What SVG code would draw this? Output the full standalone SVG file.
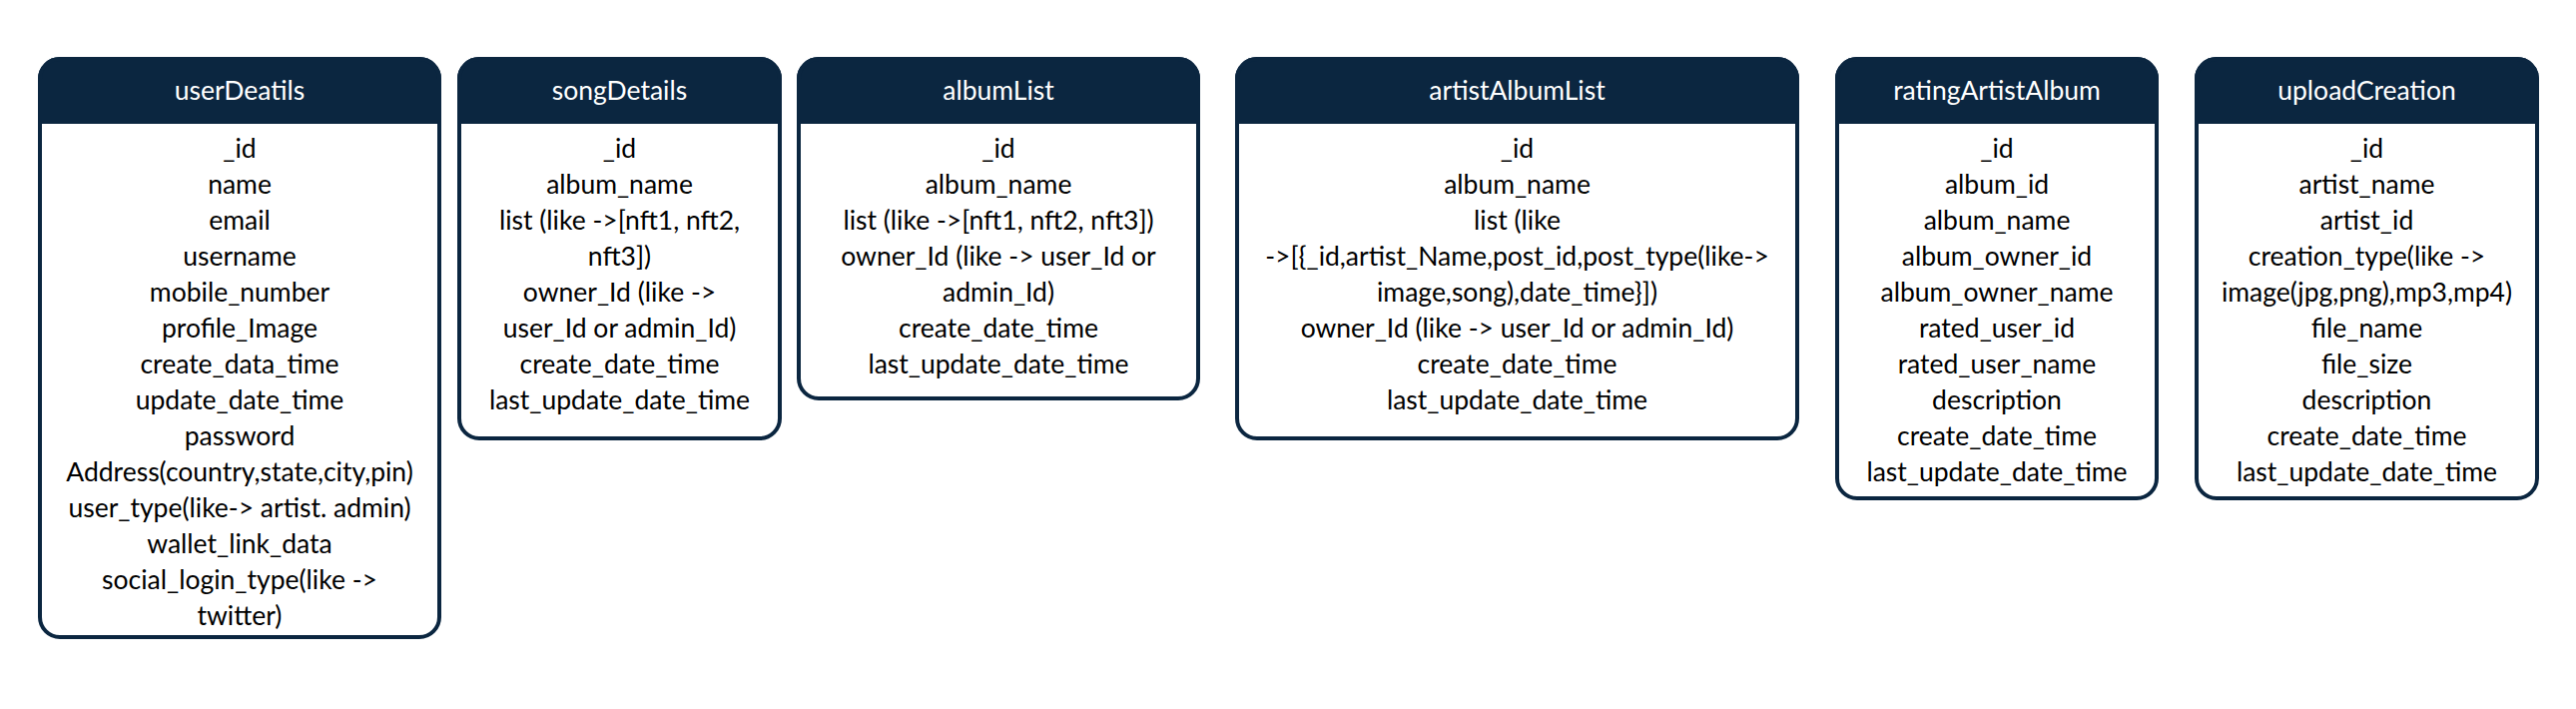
<svg xmlns="http://www.w3.org/2000/svg" width="2580" height="710" viewBox="0 0 2580 710">
<style>
.box{fill:#ffffff;stroke:#0b2640;stroke-width:4}
.hdr{fill:#0b2640;stroke:#0b2640;stroke-width:4}
.title{font-family:Lato,"Open Sans",sans-serif;font-size:26.5px;fill:#ffffff;text-anchor:middle}
.row{font-family:Lato,"Open Sans",sans-serif;font-size:26.5px;fill:#000000;text-anchor:middle}
</style>
<rect width="2580" height="710" fill="#ffffff"/>
<g id="connectors"></g>

<g id="userDeatils">
<rect class="box" x="40" y="59" width="400" height="579" rx="20"/>
<path class="hdr" d="M40,122 V79 A20,20 0 0 1 60,59 H420 A20,20 0 0 1 440,79 V122 Z"/>
<text class="title" x="240" y="100">userDeatils</text>
<text class="row" x="240" y="158">_id</text>
<text class="row" x="240" y="194">name</text>
<text class="row" x="240" y="230">email</text>
<text class="row" x="240" y="266">username</text>
<text class="row" x="240" y="302">mobile_number</text>
<text class="row" x="240" y="338">profile_Image</text>
<text class="row" x="240" y="374">create_data_time</text>
<text class="row" x="240" y="410">update_date_time</text>
<text class="row" x="240" y="446">password</text>
<text class="row" x="240" y="482">Address(country,state,city,pin)</text>
<text class="row" x="240" y="518">user_type(like-&gt; artist. admin)</text>
<text class="row" x="240" y="554">wallet_link_data</text>
<text class="row" x="240" y="590">social_login_type(like -&gt;</text>
<text class="row" x="240" y="626">twitter)</text>
</g>

<g id="songDetails">
<rect class="box" x="460" y="59" width="321" height="380" rx="20"/>
<path class="hdr" d="M460,122 V79 A20,20 0 0 1 480,59 H761 A20,20 0 0 1 781,79 V122 Z"/>
<text class="title" x="620.5" y="100">songDetails</text>
<text class="row" x="620.5" y="158">_id</text>
<text class="row" x="620.5" y="194">album_name</text>
<text class="row" x="620.5" y="230">list (like -&gt;[nft1, nft2,</text>
<text class="row" x="620.5" y="266">nft3])</text>
<text class="row" x="620.5" y="302">owner_Id (like -&gt;</text>
<text class="row" x="620.5" y="338">user_Id or admin_Id)</text>
<text class="row" x="620.5" y="374">create_date_time</text>
<text class="row" x="620.5" y="410">last_update_date_time</text>
</g>

<g id="albumList">
<rect class="box" x="800" y="59" width="400" height="340" rx="20"/>
<path class="hdr" d="M800,122 V79 A20,20 0 0 1 820,59 H1180 A20,20 0 0 1 1200,79 V122 Z"/>
<text class="title" x="1000" y="100">albumList</text>
<text class="row" x="1000" y="158">_id</text>
<text class="row" x="1000" y="194">album_name</text>
<text class="row" x="1000" y="230">list (like -&gt;[nft1, nft2, nft3])</text>
<text class="row" x="1000" y="266">owner_Id (like -&gt; user_Id or</text>
<text class="row" x="1000" y="302">admin_Id)</text>
<text class="row" x="1000" y="338">create_date_time</text>
<text class="row" x="1000" y="374">last_update_date_time</text>
</g>

<g id="artistAlbumList">
<rect class="box" x="1239" y="59" width="561" height="380" rx="20"/>
<path class="hdr" d="M1239,122 V79 A20,20 0 0 1 1259,59 H1780 A20,20 0 0 1 1800,79 V122 Z"/>
<text class="title" x="1519.5" y="100">artistAlbumList</text>
<text class="row" x="1519.5" y="158">_id</text>
<text class="row" x="1519.5" y="194">album_name</text>
<text class="row" x="1519.5" y="230">list (like</text>
<text class="row" x="1519.5" y="266">-&gt;[{_id,artist_Name,post_id,post_type(like-&gt;</text>
<text class="row" x="1519.5" y="302">image,song),date_time}])</text>
<text class="row" x="1519.5" y="338">owner_Id (like -&gt; user_Id or admin_Id)</text>
<text class="row" x="1519.5" y="374">create_date_time</text>
<text class="row" x="1519.5" y="410">last_update_date_time</text>
</g>

<g id="ratingArtistAlbum">
<rect class="box" x="1840" y="59" width="320" height="440" rx="20"/>
<path class="hdr" d="M1840,122 V79 A20,20 0 0 1 1860,59 H2140 A20,20 0 0 1 2160,79 V122 Z"/>
<text class="title" x="2000" y="100">ratingArtistAlbum</text>
<text class="row" x="2000" y="158">_id</text>
<text class="row" x="2000" y="194">album_id</text>
<text class="row" x="2000" y="230">album_name</text>
<text class="row" x="2000" y="266">album_owner_id</text>
<text class="row" x="2000" y="302">album_owner_name</text>
<text class="row" x="2000" y="338">rated_user_id</text>
<text class="row" x="2000" y="374">rated_user_name</text>
<text class="row" x="2000" y="410">description</text>
<text class="row" x="2000" y="446">create_date_time</text>
<text class="row" x="2000" y="482">last_update_date_time</text>
</g>

<g id="uploadCreation">
<rect class="box" x="2200" y="59" width="341" height="440" rx="20"/>
<path class="hdr" d="M2200,122 V79 A20,20 0 0 1 2220,59 H2521 A20,20 0 0 1 2541,79 V122 Z"/>
<text class="title" x="2370.5" y="100">uploadCreation</text>
<text class="row" x="2370.5" y="158">_id</text>
<text class="row" x="2370.5" y="194">artist_name</text>
<text class="row" x="2370.5" y="230">artist_id</text>
<text class="row" x="2370.5" y="266">creation_type(like -&gt;</text>
<text class="row" x="2370.5" y="302">image(jpg,png),mp3,mp4)</text>
<text class="row" x="2370.5" y="338">file_name</text>
<text class="row" x="2370.5" y="374">file_size</text>
<text class="row" x="2370.5" y="410">description</text>
<text class="row" x="2370.5" y="446">create_date_time</text>
<text class="row" x="2370.5" y="482">last_update_date_time</text>
</g>
</svg>
